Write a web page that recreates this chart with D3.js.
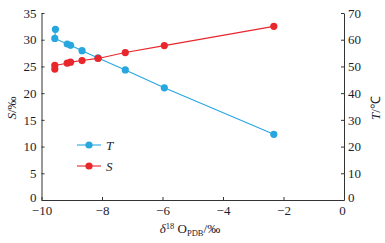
<!DOCTYPE html>
<html>
<head>
<meta charset="utf-8">
<script src="https://cdn.jsdelivr.net/npm/d3@7"></script>
<style>
  body { margin: 0; background: #fff; }
  text { font-family: "Liberation Serif", "Times New Roman", serif; fill: #1c1c2e; }
</style>
</head>
<body>
<div id="chart"></div>
<script>
// δ18O (x) and temperature T (right axis) / salinity S (left axis)
const tD18O = [-9.54, -9.56, -9.15, -9.04, -8.66, -8.13, -7.23, -5.94, -2.32];
const tValues = [63.9, 60.5, 58.4, 57.9, 55.9, 53.2, 48.7, 42.0, 24.6];
const sD18O = [-9.56, -9.56, -9.15, -9.04, -8.66, -8.13, -7.23, -5.94, -2.32];
const sValues = [24.5, 25.2, 25.6, 25.8, 26.1, 26.5, 27.6, 28.9, 32.5];
const xTicks = [-10, -8, -6, -4, -2, 0];
const sTicks = [0, 5, 10, 15, 20, 25, 30, 35];
const tTicks = [0, 10, 20, 30, 40, 50, 60, 70];

const blue = "#27a6df", red = "#e8262c";
const width = 385, height = 243;
const margin = { top: 13, right: 41, bottom: 43, left: 41.5 };

const svg = d3.select("#chart").append("svg")
    .attr("width", width)
    .attr("height", height);

const x = d3.scaleLinear().domain([-10, 0]).range([margin.left, width - margin.right]);
const yS = d3.scaleLinear().domain([0, 35]).range([height - margin.bottom, margin.top]);
const yT = d3.scaleLinear().domain([0, 70]).range([height - margin.bottom, margin.top]);

const fmt = (d) => d < 0 ? "\u2212" + Math.abs(d) : String(d);

// axes, ticks pointing inward
const xAxis = svg.append("g")
    .attr("transform", `translate(0,${height - margin.bottom})`)
    .call(d3.axisBottom(x).tickValues(xTicks).tickSizeInner(-3).tickSizeOuter(0).tickPadding(6).tickFormat(fmt));
xAxis.selectAll("text").filter((d) => d === 0).attr("dx", -2);

const leftAxis = svg.append("g")
    .attr("transform", `translate(${margin.left},0)`)
    .call(d3.axisLeft(yS).tickValues(sTicks).tickSizeInner(-3).tickSizeOuter(0).tickPadding(5));

const rightAxis = svg.append("g")
    .attr("transform", `translate(${width - margin.right},0)`)
    .call(d3.axisRight(yT).tickValues(tTicks).tickSizeInner(-3).tickSizeOuter(0).tickPadding(4));

[xAxis, leftAxis, rightAxis].forEach((g) => {
    g.select(".domain").attr("stroke", "#333");
    g.selectAll(".tick line").attr("stroke", "#333");
    g.selectAll("text")
        .style("font-family", "Liberation Serif, serif")
        .style("font-size", "13px")
        .attr("fill", "#1c1c2e");
});
// lift the two zero labels a little so they clear the x tick labels
leftAxis.selectAll(".tick text").filter((d) => d === 0).attr("dy", "0.12em");
rightAxis.selectAll(".tick text").filter((d) => d === 0).attr("dy", "0.12em");

// series
const lineT = d3.line().x((d, i) => x(tD18O[i])).y((d) => yT(d));
const lineS = d3.line().x((d, i) => x(sD18O[i])).y((d) => yS(d));

svg.append("path").datum(tValues)
    .attr("d", lineT).attr("fill", "none").attr("stroke", blue).attr("stroke-width", 1.1);
svg.append("g").selectAll("circle").data(tValues).join("circle")
    .attr("cx", (d, i) => x(tD18O[i])).attr("cy", (d) => yT(d))
    .attr("r", 3.6).attr("fill", blue);

svg.append("path").datum(sValues)
    .attr("d", lineS).attr("fill", "none").attr("stroke", red).attr("stroke-width", 1.1);
svg.append("g").selectAll("circle").data(sValues).join("circle")
    .attr("cx", (d, i) => x(sD18O[i])).attr("cy", (d) => yS(d))
    .attr("r", 3.6).attr("fill", red);

// legend
const legend = [
    { name: "T", color: blue, y: 145 },
    { name: "S", color: red, y: 166 },
];
const lg = svg.append("g").selectAll("g").data(legend).join("g");
lg.append("line")
    .attr("x1", 77).attr("x2", 101)
    .attr("y1", (d) => d.y).attr("y2", (d) => d.y)
    .attr("stroke", (d) => d.color).attr("stroke-width", 1.1);
lg.append("circle")
    .attr("cx", 89).attr("cy", (d) => d.y).attr("r", 3.6)
    .attr("fill", (d) => d.color);
lg.append("text")
    .attr("x", 106).attr("y", (d) => d.y + 4.5)
    .style("font-size", "13px").style("font-style", "italic")
    .text((d) => d.name);

// axis titles
svg.append("text")
    .attr("transform", "translate(16,108) rotate(-90)")
    .attr("text-anchor", "middle")
    .style("font-size", "13px")
    .call((t) => {
        t.append("tspan").style("font-style", "italic").text("S");
        t.append("tspan").text("/\u2030");
    });

svg.append("text")
    .attr("transform", "translate(380,108) rotate(-90)")
    .attr("text-anchor", "middle")
    .style("font-size", "13px")
    .call((t) => {
        t.append("tspan").style("font-style", "italic").text("T");
        t.append("tspan").text("/\u2103");
    });

const xt = svg.append("text")
    .attr("x", 190).attr("y", 233)
    .attr("text-anchor", "middle")
    .style("font-size", "13px");
xt.append("tspan").style("font-style", "italic").text("\u03b4");
xt.append("tspan").attr("dy", -4).style("font-size", "8.5px").text("18");
xt.append("tspan").attr("dy", 4).text(" O");
xt.append("tspan").attr("dy", 3).style("font-size", "8.5px").text("PDB");
xt.append("tspan").attr("dy", -3).text("/\u2030");
</script>
</body>
</html>
